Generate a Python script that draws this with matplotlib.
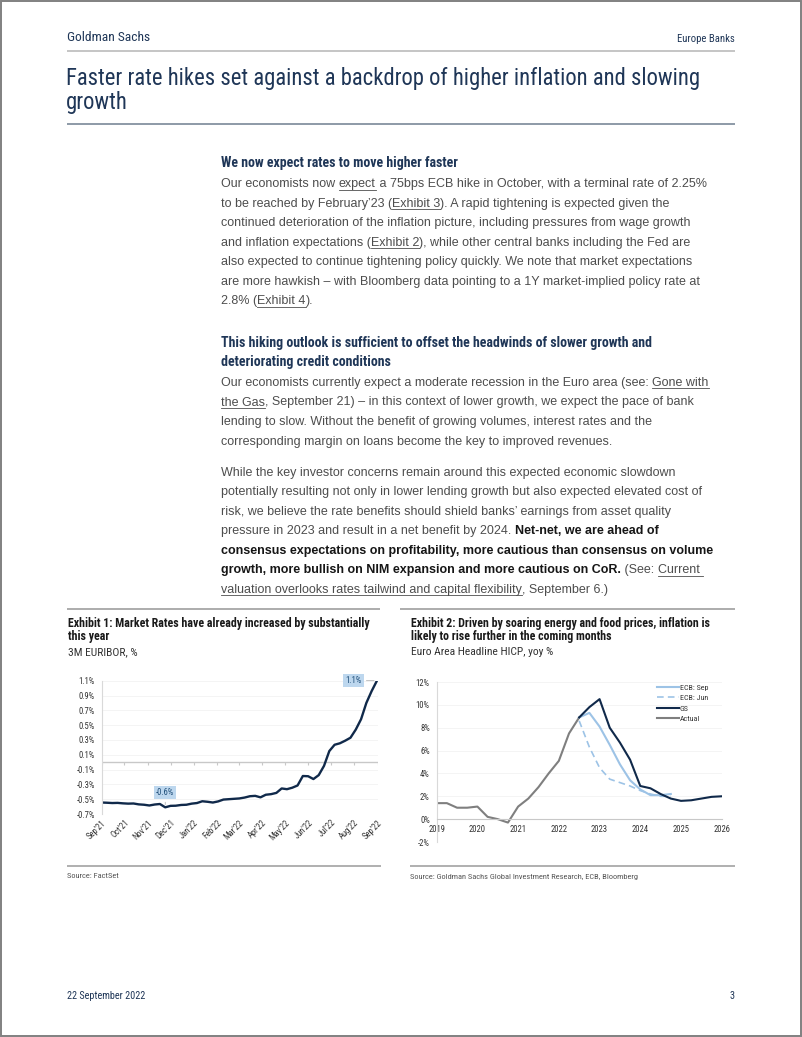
import numpy as np
import pandas as pd
import matplotlib
matplotlib.use("Agg")
import matplotlib.pyplot as plt
from matplotlib import font_manager as fm
from matplotlib.patches import Rectangle

# ---- chart data -------------------------------------------------------------
# Exhibit 1: 3M EURIBOR, weekly, Sep'21 - Sep'22 (%)
euribor = [-0.545, -0.548, -0.552, -0.550, -0.556, -0.560, -0.558, -0.570,
           -0.575, -0.585, -0.572, -0.565, -0.610, -0.590, -0.588, -0.578,
           -0.575, -0.560, -0.552, -0.528, -0.535, -0.545, -0.530, -0.505,
           -0.500, -0.495, -0.490, -0.478, -0.460, -0.455, -0.475, -0.440,
           -0.432, -0.415, -0.355, -0.365, -0.345, -0.315, -0.187, -0.190,
           -0.228, -0.175, -0.050, 0.150, 0.235, 0.255, 0.290, 0.330,
           0.440, 0.580, 0.800, 0.960, 1.100]
euribor_dates = pd.date_range("2021-09-21", periods=len(euribor), freq="7D")
month_ticks = pd.date_range("2021-09-21", periods=13, freq=pd.DateOffset(months=1))

# Exhibit 2: Euro area headline HICP, yoy %
actual_x = [2019.0, 2019.25, 2019.5, 2019.75, 2020.0, 2020.25, 2020.5, 2020.75,
            2021.0, 2021.25, 2021.5, 2021.75, 2022.0, 2022.25, 2022.5]
actual_y = [1.4, 1.4, 1.0, 1.0, 1.1, 0.2, 0.0, -0.3,
            1.1, 1.8, 2.8, 4.0, 5.1, 7.5, 8.9]
gs_x = [2022.5, 2022.75, 2023.0, 2023.25, 2023.5, 2023.75, 2024.0, 2024.25,
        2024.5, 2024.75, 2025.0, 2025.25, 2025.5, 2025.75, 2026.0]
gs_y = [8.9, 9.8, 10.5, 8.0, 6.7, 5.2, 2.9, 2.7, 2.2, 1.8, 1.6, 1.65, 1.8, 1.95, 2.0]
ecb_x = [2022.5, 2022.75, 2023.0, 2023.25, 2023.5, 2023.75, 2024.0, 2024.25,
         2024.5, 2024.75]
ecb_sep = [8.9, 9.3, 8.1, 6.5, 4.8, 3.4, 2.6, 2.1, 2.1, 2.2]
ecb_jun = [8.6, 6.3, 4.5, 3.5, 3.2, 2.9, 2.5, 2.2, 2.0, 2.0]
years = [2019, 2020, 2021, 2022, 2023, 2024, 2025, 2026]

# ---- page text ----------------------------------------------------------------
title_lines = ["Faster rate hikes set against a backdrop of higher inflation and slowing",
               "growth"]
head1 = ["We now expect rates to move higher faster"]
para1 = [
    [("Our economists now ", "r"), ("expect", "u"),
     (" a 75bps ECB hike in October, with a terminal rate of 2.25%", "r")],
    [("to be reached by February\u201923 (", "r"), ("Exhibit 3", "u"),
     ("). A rapid tightening is expected given the", "r")],
    [("continued deterioration of the inflation picture, including pressures from wage growth", "r")],
    [("and inflation expectations (", "r"), ("Exhibit 2", "u"),
     ("), while other central banks including the Fed are", "r")],
    [("also expected to continue tightening policy quickly. We note that market expectations", "r")],
    [("are more hawkish \u2013 with Bloomberg data pointing to a 1Y market-implied policy rate at", "r")],
    [("2.8% (", "r"), ("Exhibit 4", "u"), (").", "r")],
]
head2 = ["This hiking outlook is sufficient to offset the headwinds of slower growth and",
         "deteriorating credit conditions"]
para2 = [
    [("Our economists currently expect a moderate recession in the Euro area (see: ", "r"),
     ("Gone with", "u")],
    [("the Gas", "u"), (", September 21) \u2013 in this context of lower growth, we expect the pace of bank", "r")],
    [("lending to slow. Without the benefit of growing volumes, interest rates and the", "r")],
    [("corresponding margin on loans become the key to improved revenues.", "r")],
]
para3 = [
    [("While the key investor concerns remain around this expected economic slowdown", "r")],
    [("potentially resulting not only in lower lending growth but also expected elevated cost of", "r")],
    [("risk, we believe the rate benefits should shield banks\u2019 earnings from asset quality", "r")],
    [("pressure in 2023 and result in a net benefit by 2024. ", "r"), ("Net-net, we are ahead of", "b")],
    [("consensus expectations on profitability, more cautious than consensus on volume", "b")],
    [("growth, more bullish on NIM expansion and more cautious on CoR.", "b"), (" (See: ", "r"),
     ("Current ", "u")],
    [("valuation overlooks rates tailwind and capital flexibility", "u"), (", September 6.)", "r")],
]
ex1 = ["Exhibit 1: Market Rates have already increased by substantially", "this year"]
ex2 = ["Exhibit 2: Driven by soaring energy and food prices, inflation is",
       "likely to rise further in the coming months"]
src1 = "Source: FactSet"
src2 = "Source: Goldman Sachs Global Investment Research, ECB, Bloomberg"


def pick_narrow():
    # find a condensed face if one is installed, else the narrowest plain sans
    stretchy = ("condensed", "semi-condensed", "extra-condensed", "ultra-condensed")
    fl = fm.fontManager.ttflist
    for name in ["Liberation Sans Narrow", "Roboto Condensed", "DejaVu Sans",
                 "Open Sans Condensed", "Noto Sans", "Open Sans"]:
        for f in fl:
            if f.name == name and (str(f.stretch) in stretchy or "Narrow" in name
                                   or "Condensed" in name):
                return dict(family=name, stretch=str(f.stretch) if str(f.stretch) in stretchy else "normal")
    for f in fl:
        if "Narrow" in f.name or "Condensed" in f.name:
            return dict(family=f.name)
    return dict(family="Roboto")


NARROW = pick_narrow()
SANS = dict(family=["Liberation Sans", "DejaVu Sans"])
W, H = 802, 1037
NAVY = "#1f3657"
BODY = "#4d4d4d"
LINE = 19.5

fig = plt.figure(figsize=(W / 100, H / 100), dpi=100)
bg = fig.add_axes([0, 0, 1, 1])
bg.set_xlim(0, W)
bg.set_ylim(H, 0)
bg.axis("off")
renderer = fig.canvas.get_renderer()


def text_width(s, **kw):
    t = bg.text(0, 0, s + "|", **kw)
    w1 = t.get_window_extent(renderer).width
    t.set_text("|")
    w2 = t.get_window_extent(renderer).width
    t.remove()
    return w1 - w2


def fit(pairs, **kw):
    # font size that makes the given strings as wide as in the page
    sizes = [10 * target / text_width(s, size=10, **kw) for s, target in pairs]
    return sum(sizes) / len(sizes)


BODY_SIZE = fit([(para1[0][0][0] + para1[0][1][0] + para1[0][2][0], 484),
                 (para3[0][0][0], 454)], **SANS)


def rich_line(x, y, segs):
    for s, style in segs:
        kw = dict(size=BODY_SIZE, color=BODY, va="baseline", **SANS)
        if style == "b":
            kw.update(weight="bold", color="#161616")
        bg.text(x, y, s, **kw)
        w = text_width(s, **kw)
        if style == "u":
            bg.plot([x, x + w], [y + 2.4, y + 2.4], color=BODY, lw=0.6)
        x += w


def hrule(x0, x1, y, color, lw):
    bg.plot([x0, x1], [y, y], color=color, lw=lw, solid_capstyle="butt")


# header
s = fit([("Goldman Sachs", 83)], **NARROW)
bg.text(67, 40.7, "Goldman Sachs", size=s, color=NAVY, va="baseline", **NARROW)
s = fit([("Europe Banks", 57)], **NARROW)
bg.text(735, 41.5, "Europe Banks", size=s, color=NAVY, va="baseline", ha="right", **NARROW)
hrule(67, 735, 51, "#b5b5b5", 1.1)
s = fit([(title_lines[0], 630)], **NARROW)
for i, t in enumerate(title_lines):
    bg.text(66, 84.5 + 24 * i, t, size=s, color=NAVY, va="baseline", **NARROW)
hrule(67, 735, 123.5, "#6f7f90", 1.1)

# body
X0 = 221
hs = fit([(head1[0], 237), (head2[0], 428)], weight="bold", **NARROW)
bg.text(X0, 166.7, head1[0], size=hs, weight="bold", color=NAVY, va="baseline", **NARROW)
for i, segs in enumerate(para1):
    rich_line(X0, 187.3 + LINE * i, segs)
for i, t in enumerate(head2):
    bg.text(X0, 346.7 + LINE * i, t, size=hs, weight="bold", color=NAVY, va="baseline", **NARROW)
for i, segs in enumerate(para2):
    rich_line(X0, 386 + LINE * i, segs)
for i, segs in enumerate(para3):
    rich_line(X0, 475.7 + LINE * i, segs)

# exhibit frames and captions
hrule(67, 380, 608.5, "#a6a6a6", 1.3)
hrule(400, 735, 608.5, "#a6a6a6", 1.3)
hrule(67, 381, 866, "#9a9a9a", 1.1)
hrule(410, 735, 866, "#9a9a9a", 1.1)

es = fit([(ex1[0], 302), (ex2[0], 297)], weight="bold", **NARROW)
for i, t in enumerate(ex1):
    bg.text(68, 626.7 + 13.3 * i, t, size=es, weight="bold", color="#1a1a1a", va="baseline", **NARROW)
for i, t in enumerate(ex2):
    bg.text(411, 626.7 + 13.3 * i, t, size=es, weight="bold", color="#1a1a1a", va="baseline", **NARROW)
ss = fit([("3M EURIBOR, %", 70), ("Euro Area Headline HICP, yoy %", 140)], **NARROW)
bg.text(68, 655, "3M EURIBOR, %", size=ss, color="#333333", va="baseline", **NARROW)
bg.text(411, 655, "Euro Area Headline HICP, yoy %", size=ss, color="#333333", va="baseline", **NARROW)
rs = fit([(src1, 52), (src2, 228)], **NARROW)
bg.text(67, 878.5, src1, size=rs, color="#555555", va="baseline", **NARROW)
bg.text(410, 878.5, src2, size=rs, color="#555555", va="baseline", **NARROW)

# footer
fs = fit([("22 September 2022", 78)], **NARROW)
bg.text(67, 999, "22 September 2022", size=fs, color=NAVY, va="baseline", **NARROW)
bg.text(735, 999, "3", size=fs, color=NAVY, va="baseline", ha="right", **NARROW)
bg.add_patch(Rectangle((0.8, 0.8), W - 1.6, H - 1.6, fill=False, ec="#808080", lw=1.4))


def px_rect(x0, y0, x1, y1):
    return [x0 / W, 1 - y1 / H, (x1 - x0) / W, (y1 - y0) / H]


TICK = dict(size=6.2, **NARROW)

# ---- Exhibit 1 ---------------------------------------------------------------
ax1 = fig.add_axes(px_rect(101.7, 680.7, 377.7, 814))
ax1.plot(euribor_dates, euribor, color="#10294a", lw=1.7, solid_joinstyle="round")
ax1.set_ylim(-0.7, 1.1)
yt = np.arange(-0.7, 1.11, 0.2)
ax1.set_yticks(yt)
ax1.set_yticklabels([f"{v:.1f}%" for v in yt], **TICK)
ax1.set_xlim(month_ticks[0], month_ticks[-1])
ax1.set_xticks(month_ticks)
ax1.set_xticklabels([d.strftime("%b'%y") for d in month_ticks], rotation=45,
                    ha="right", va="top", rotation_mode="anchor", **TICK)
for sp in ["top", "right", "bottom"]:
    ax1.spines[sp].set_visible(False)
ax1.spines["left"].set_color("#d9d9d9")
ax1.axhline(0, color="#c8c8c8", lw=1, zorder=1)
ax1.vlines(month_ticks, -0.035, 0, color="#c8c8c8", lw=0.8)
ax1.grid(axis="y", color="#f2f2f2", lw=0.6)
ax1.set_axisbelow(True)
ax1.tick_params(length=0, colors="#333333")
ax1.tick_params(axis="x", pad=3)
ax1.tick_params(axis="y", pad=5)
box = dict(boxstyle="square,pad=0.25", fc="#bdd7ee", ec="none")
imin = int(np.argmin(euribor))
ax1.annotate(f"{euribor[imin]:.1f}%", xy=(euribor_dates[imin], euribor[imin]),
             xytext=(0, 10.5), textcoords="offset points", ha="center", va="center",
             color="#1f4e79", bbox=box, arrowprops=dict(arrowstyle="-", color="#a6a6a6", lw=0.5),
             **TICK)
ax1.annotate(f"{euribor[-1]:.1f}%", xy=(euribor_dates[-1], euribor[-1]),
             xytext=(-17, 0), textcoords="offset points", ha="center", va="center",
             color="#1f4e79", bbox=box, arrowprops=dict(arrowstyle="-", color="#a6a6a6", lw=0.5),
             **TICK)

# ---- Exhibit 2 ---------------------------------------------------------------
ax2 = fig.add_axes(px_rect(436.7, 682, 721.7, 842))
ax2.spines["bottom"].set_position(("data", 0))
l_act, = ax2.plot(actual_x, actual_y, color="#7f7f7f", lw=1.5)
l_jun, = ax2.plot(ecb_x, ecb_jun, color="#9dc3e6", lw=1.2, ls=(0, (4, 2.5)))
l_sep, = ax2.plot(ecb_x, ecb_sep, color="#9dc3e6", lw=1.5)
l_gs, = ax2.plot(gs_x, gs_y, color="#10294a", lw=1.5)
ax2.set_xlim(years[0], years[-1])
ax2.set_ylim(-2, 12)
ax2.set_yticks(range(-2, 13, 2))
ax2.set_yticklabels([f"{v}%" for v in range(-2, 13, 2)], **TICK)
ax2.set_xticks(years)
ax2.set_xticklabels([str(y) for y in years], **TICK)
ax2.spines["top"].set_visible(False)
ax2.spines["right"].set_visible(False)
ax2.spines["left"].set_color("#d9d9d9")
ax2.spines["bottom"].set_color("#c8c8c8")
ax2.grid(axis="y", color="#f2f2f2", lw=0.6)
ax2.set_axisbelow(True)
ax2.tick_params(length=0, colors="#333333")
ax2.tick_params(axis="x", pad=4)
ax2.tick_params(axis="y", pad=5)
ax2.legend([l_sep, l_jun, l_gs, l_act], ["ECB: Sep", "ECB: Jun", "GS", "Actual"],
           loc="upper left", bbox_to_anchor=(0.773, 0.985), frameon=False,
           prop=fm.FontProperties(size=5.8, **NARROW),
           handlelength=2.7, handletextpad=0.15, labelspacing=0.45,
           borderaxespad=0, borderpad=0, labelcolor="#333333")

fig.savefig("out.png", dpi=100, facecolor="white")
